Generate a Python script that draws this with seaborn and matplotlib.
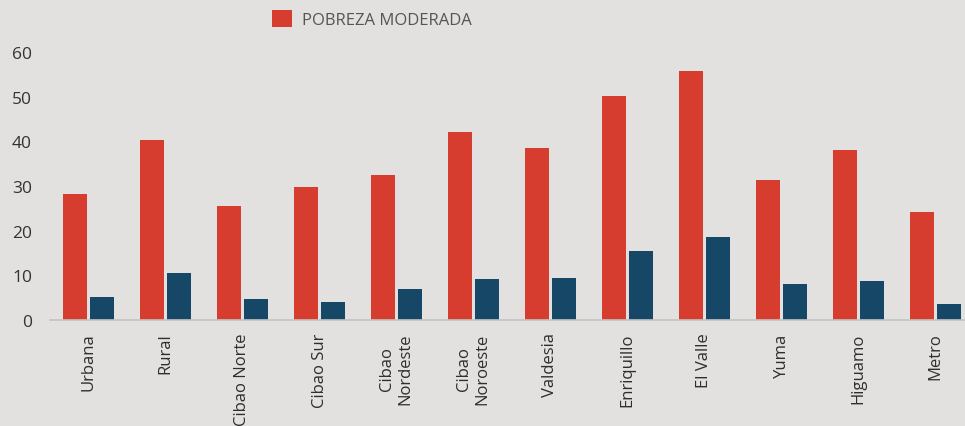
import pandas as pd
import matplotlib
matplotlib.use("Agg")
import matplotlib.pyplot as plt
from matplotlib.patches import Patch
import seaborn as sns

# Datos
regiones = ["Urbana", "Rural", "Cibao Norte", "Cibao Sur", "Cibao\nNordeste",
            "Cibao\nNoroeste", "Valdesia", "Enriquillo", "El Valle", "Yuma",
            "Higuamo", "Metro"]
pobreza_moderada = [28.2, 40.3, 25.5, 29.8, 32.4, 42.1, 38.5, 50.1, 55.7, 31.3, 38.0, 24.2]
pobreza_extrema = [5.1, 10.5, 4.7, 4.0, 6.9, 9.2, 9.4, 15.4, 18.6, 8.0, 8.7, 3.6]
series = ["POBREZA MODERADA", "POBREZA EXTREMA"]

df = pd.DataFrame({
    "region": regiones * 2,
    "serie": [series[0]] * len(regiones) + [series[1]] * len(regiones),
    "valor": pobreza_moderada + pobreza_extrema,
})

fondo = "#e3e1df"
rojo = "#d63d2e"
azul = "#174766"

sns.set_style("white")
plt.rcParams["font.family"] = ["Open Sans", "DejaVu Sans"]

fig = plt.figure(figsize=(9.65, 4.27), dpi=100, facecolor=fondo)
ax = fig.add_axes([50 / 965, 1 - 321 / 427, 924 / 965, 268 / 427])
ax.set_facecolor(fondo)

sns.barplot(data=df, x="region", y="valor", hue="serie", order=regiones,
            hue_order=series, palette=[rojo, azul], saturation=1,
            width=0.715, gap=0.13, linewidth=0, edgecolor="none",
            legend=False, ax=ax)

ax.set_xlim(-0.5, len(regiones) - 0.5)
ax.set_ylim(0, 60)
ax.set_yticks(range(0, 61, 10))
ax.set_xlabel("")
ax.set_ylabel("")
for s in ["top", "right", "left"]:
    ax.spines[s].set_visible(False)
ax.spines["bottom"].set_color("#c4c4c4")
ax.spines["bottom"].set_linewidth(1.2)
ax.tick_params(axis="y", length=0, pad=13, labelsize=12.5, labelcolor="#333333")
ax.tick_params(axis="x", length=0, pad=9, labelsize=12, labelcolor="#2e2e2e",
               labelrotation=90)

fig.legend(handles=[Patch(facecolor=rojo, edgecolor="none", label=series[0])],
           loc="upper left", bbox_to_anchor=(261 / 965, 1.0), frameon=False,
           fontsize=12, handlelength=1.2, handleheight=1.2,
           handletextpad=0.6, labelcolor="#555555", borderaxespad=0.25)

fig.savefig("out.png", dpi=100, facecolor=fondo)
